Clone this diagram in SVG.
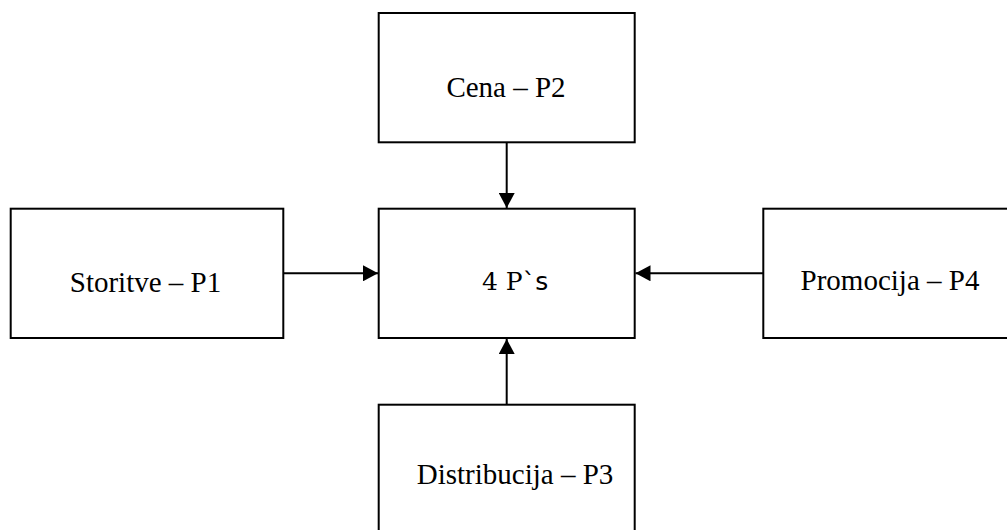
<svg xmlns="http://www.w3.org/2000/svg" width="1007" height="530" viewBox="0 0 1007 530">
  <defs>
    <marker id="arrow" markerUnits="userSpaceOnUse" markerWidth="16" markerHeight="16" viewBox="0 0 15 16" refX="15" refY="8" orient="auto">
      <path d="M0,0 L15,8 L0,16 Z" fill="#000"/>
    </marker>
    <style>
      .box { fill: #fff; stroke: #000; stroke-width: 2; }
      .lbl { font-family: "Liberation Serif", "Times New Roman", serif; font-size: 29px; fill: #000; text-anchor: middle; }
      .edge { stroke: #000; stroke-width: 2; fill: none; marker-end: url(#arrow); }
    </style>
  </defs>
  <rect x="0" y="0" width="1007" height="530" fill="#fff"/>
  <g id="connectors">
    <line class="edge" x1="506.7" y1="143" x2="506.7" y2="208"/>
    <line class="edge" x1="506.7" y1="404" x2="506.7" y2="339"/>
    <line class="edge" x1="284" y1="273.3" x2="378" y2="273.3"/>
    <line class="edge" x1="763" y1="273.3" x2="635.5" y2="273.3"/>
  </g>
  <g id="node-p2">
    <rect class="box" x="378.7" y="13" width="256" height="129.3"/>
    <text class="lbl" x="506" y="96.7">Cena – P2</text>
  </g>
  <g id="node-center">
    <rect class="box" x="378.7" y="208.7" width="256" height="129.3"/>
    <text x="482" y="290" font-size="25" fill="#000"><tspan font-family="DejaVu Serif, serif">4 P</tspan><tspan font-family="DejaVu Sans, sans-serif">`s</tspan></text>
  </g>
  <g id="node-p1">
    <rect class="box" x="10.7" y="208.7" width="272.6" height="129.3"/>
    <text class="lbl" x="145.5" y="291.5">Storitve – P1</text>
  </g>
  <g id="node-p4">
    <rect class="box" x="763.3" y="208.7" width="250" height="129.3"/>
    <text class="lbl" x="890" y="290">Promocija – P4</text>
  </g>
  <g id="node-p3">
    <rect class="box" x="378.7" y="404.7" width="256" height="140"/>
    <text class="lbl" x="515" y="484">Distribucija – P3</text>
  </g>
</svg>
